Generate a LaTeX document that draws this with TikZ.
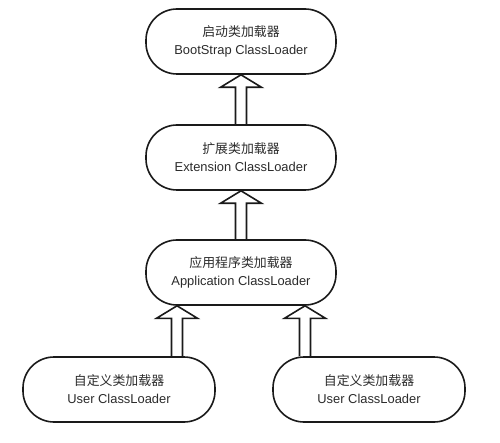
\documentclass[tikz,border=0pt]{standalone}
\usepackage{fontspec}
\usetikzlibrary{calc}
\setmainfont{Liberation Sans}
\newfontfamily\cjk{Noto Sans CJK SC}
\definecolor{inkline}{HTML}{1A1A1A}
\definecolor{inktext}{HTML}{2B2B2B}
\tikzset{
  loader/.style={draw=inkline, line width=1.6pt, rounded corners=31pt,
    minimum width=190pt, minimum height=65pt, align=center,
    text=inktext, font=\fontsize{12.9}{18}\selectfont, inner sep=0pt},
  liftline/.style={draw=inkline, line width=1.6pt, line join=miter}
}
% hollow block arrow: #1 = tail (top of lower box), #2 = tip (bottom of upper box)
\newcommand{\liftarrow}[2]{%
  \draw[liftline] let \p1=(#1), \p2=(#2) in
    (\x2-5.5pt,\y1) -- (\x2-5.5pt,\y2-12.5pt) -- (\x2-20.5pt,\y2-12.5pt) -- (\x2,\y2)
    -- (\x2+20.5pt,\y2-12.5pt) -- (\x2+5.5pt,\y2-12.5pt) -- (\x2+5.5pt,\y1);
}
\begin{document}
\begin{tikzpicture}[x=1pt,y=1pt]
\useasboundingbox (0,0) rectangle (500,442);
\node[loader] (cl0) at (241,400.5){{\cjk 启动类加载器}\\BootStrap ClassLoader};
\node[loader] (cl1) at (241,284.5){{\cjk 扩展类加载器}\\Extension ClassLoader};
\node[loader] (cl2) at (241,169.5){{\cjk 应用程序类加载器}\\Application ClassLoader};
\node[loader, minimum width=192pt] (cl3) at (119,52.5){{\cjk 自定义类加载器}\\User ClassLoader};
\node[loader, minimum width=192pt] (cl4) at (369,52.5){{\cjk 自定义类加载器}\\User ClassLoader};
\liftarrow{cl1.north}{cl0.south}
\liftarrow{cl2.north}{cl1.south}
\liftarrow{cl3.north}{[xshift=-64pt]cl2.south}
\liftarrow{cl4.north}{[xshift=64pt]cl2.south}

\end{tikzpicture}
\end{document}
